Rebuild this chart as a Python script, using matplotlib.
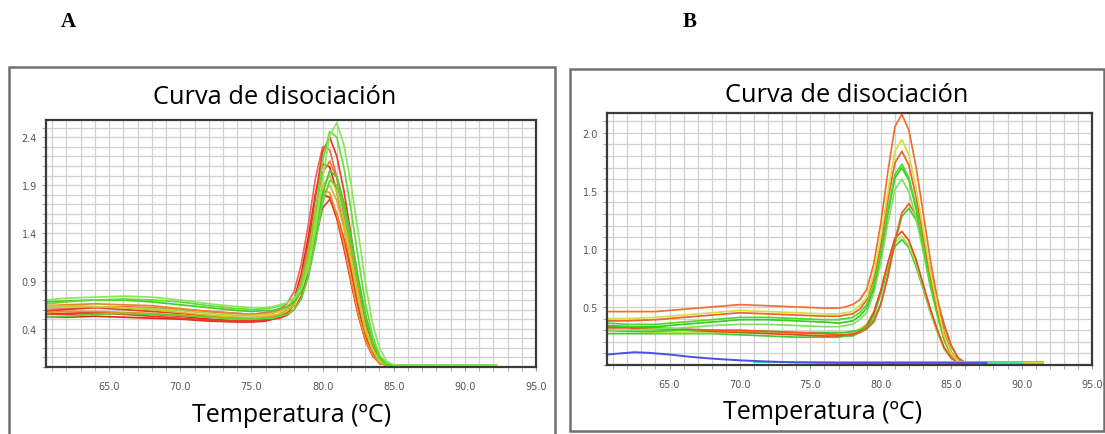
import matplotlib
matplotlib.use("Agg")
import matplotlib.pyplot as plt
from matplotlib.patches import Rectangle
from matplotlib.ticker import MultipleLocator, FixedLocator

# ---- panel A data (melt curves, -dF/dT vs temperature) ----
TEMP_A = [60.6, 62, 64, 66, 68, 70, 72, 74, 75, 76, 76.5, 77, 77.5, 78, 78.5, 79,
          79.5, 80, 80.5, 81, 81.5, 82, 82.5, 83, 83.5, 84, 84.5, 85, 86, 88, 90, 92.2]

a_1 = [0.70, 0.72, 0.73, 0.74, 0.73, 0.70, 0.66, 0.63, 0.62, 0.62, 0.63, 0.65, 0.67, 0.71, 0.81, 1.03,
       1.44, 1.97, 2.42, 2.55, 2.32, 1.91, 1.41, 0.89, 0.46, 0.20, 0.06, 0.02, 0.02, 0.02, 0.02, 0.02]
a_2 = [0.66, 0.68, 0.70, 0.71, 0.70, 0.68, 0.64, 0.61, 0.60, 0.61, 0.62, 0.64, 0.67, 0.72, 0.86, 1.17,
       1.63, 2.15, 2.46, 2.40, 2.08, 1.64, 1.14, 0.67, 0.33, 0.12, 0.04, 0.02, 0.02, 0.02, 0.02, 0.02]
a_3 = [0.58, 0.60, 0.62, 0.60, 0.58, 0.56, 0.53, 0.51, 0.50, 0.51, 0.53, 0.55, 0.59, 0.68, 0.89, 1.28,
       1.78, 2.25, 2.40, 2.20, 1.84, 1.38, 0.89, 0.48, 0.22, 0.07, 0.02, 0.02, 0.02, 0.02, 0.02, 0.02]
a_4 = [0.60, 0.61, 0.62, 0.63, 0.62, 0.60, 0.58, 0.56, 0.55, 0.57, 0.58, 0.61, 0.66, 0.79, 1.07, 1.49,
       1.97, 2.30, 2.27, 1.98, 1.59, 1.13, 0.69, 0.35, 0.15, 0.05, 0.02, 0.02, 0.02, 0.02, 0.02, 0.02]
a_5 = [0.64, 0.65, 0.66, 0.65, 0.64, 0.61, 0.58, 0.56, 0.55, 0.56, 0.57, 0.59, 0.62, 0.70, 0.88, 1.21,
       1.64, 2.03, 2.15, 1.97, 1.65, 1.23, 0.80, 0.43, 0.20, 0.07, 0.02, 0.02, 0.02, 0.02, 0.02, 0.02]
a_6 = [0.55, 0.56, 0.57, 0.56, 0.55, 0.53, 0.50, 0.48, 0.48, 0.50, 0.51, 0.54, 0.58, 0.71, 0.97, 1.36,
       1.81, 2.12, 2.09, 1.83, 1.47, 1.04, 0.63, 0.33, 0.14, 0.04, 0.02, 0.02, 0.02, 0.02, 0.02, 0.02]
a_7 = [0.68, 0.69, 0.70, 0.70, 0.68, 0.65, 0.62, 0.59, 0.58, 0.59, 0.59, 0.61, 0.63, 0.68, 0.79, 1.03,
       1.40, 1.81, 2.05, 1.99, 1.72, 1.36, 0.94, 0.56, 0.27, 0.10, 0.03, 0.02, 0.02, 0.02, 0.02, 0.02]
a_8 = [0.62, 0.63, 0.63, 0.62, 0.61, 0.59, 0.56, 0.54, 0.54, 0.55, 0.56, 0.58, 0.61, 0.68, 0.84, 1.14,
       1.53, 1.89, 2.00, 1.83, 1.53, 1.14, 0.75, 0.41, 0.19, 0.07, 0.02, 0.02, 0.02, 0.02, 0.02, 0.02]
a_9 = [0.52, 0.53, 0.55, 0.56, 0.55, 0.54, 0.52, 0.51, 0.50, 0.51, 0.51, 0.53, 0.55, 0.60, 0.71, 0.94,
       1.30, 1.71, 1.95, 1.90, 1.64, 1.30, 0.90, 0.53, 0.26, 0.10, 0.03, 0.02, 0.02, 0.02, 0.02, 0.02]
a_10 = [0.64, 0.64, 0.63, 0.62, 0.60, 0.57, 0.54, 0.52, 0.52, 0.53, 0.54, 0.55, 0.58, 0.65, 0.80, 1.09,
        1.46, 1.80, 1.90, 1.74, 1.45, 1.09, 0.71, 0.38, 0.18, 0.06, 0.02, 0.02, 0.02, 0.02, 0.02, 0.02]
a_11 = [0.57, 0.58, 0.58, 0.57, 0.56, 0.54, 0.52, 0.50, 0.50, 0.51, 0.53, 0.55, 0.59, 0.69, 0.90, 1.23,
        1.59, 1.85, 1.82, 1.59, 1.28, 0.91, 0.56, 0.29, 0.13, 0.04, 0.02, 0.02, 0.02, 0.02, 0.02, 0.02]
a_12 = [0.52, 0.52, 0.53, 0.52, 0.51, 0.50, 0.48, 0.47, 0.47, 0.48, 0.50, 0.52, 0.56, 0.65, 0.87, 1.19,
        1.55, 1.80, 1.77, 1.55, 1.24, 0.88, 0.54, 0.28, 0.12, 0.04, 0.02, 0.02, 0.02, 0.02, 0.02, 0.02]
a_13 = [0.55, 0.55, 0.56, 0.55, 0.53, 0.51, 0.49, 0.48, 0.48, 0.49, 0.50, 0.51, 0.54, 0.60, 0.74, 1.00,
        1.34, 1.66, 1.75, 1.60, 1.34, 1.00, 0.65, 0.36, 0.16, 0.06, 0.02, 0.02, 0.02, 0.02, 0.02, 0.02]

curves_a = [a_4, a_12, a_6, a_13, a_3, a_11, a_5, a_10, a_8, a_9, a_7, a_2, a_1]
colors_a = ["#f06858", "#e02818", "#e02a1a", "#e84030", "#f03a2a", "#f09020", "#f08030",
            "#e8b030", "#b0d830", "#5ad838", "#48cc28", "#66dd33", "#88e858"]

# ---- panel B data ----
TEMP_B = [60.6, 62, 64, 66, 68, 70, 72, 74, 76, 77, 77.5, 78, 78.5, 79, 79.5, 80,
          80.5, 81, 81.5, 82, 82.5, 83, 83.5, 84, 84.5, 85, 85.5, 86, 88, 90, 91.5]

b_1 = [0.46, 0.46, 0.46, 0.48, 0.50, 0.52, 0.51, 0.50, 0.49, 0.49, 0.50, 0.52, 0.56, 0.65, 0.87, 1.22,
       1.66, 2.05, 2.16, 2.02, 1.71, 1.32, 0.92, 0.58, 0.28, 0.11, 0.04, 0.02, 0.02, 0.02, 0.02]
b_2 = [0.40, 0.40, 0.41, 0.43, 0.45, 0.47, 0.46, 0.45, 0.44, 0.44, 0.45, 0.46, 0.51, 0.58, 0.78, 1.10,
       1.49, 1.84, 1.94, 1.81, 1.53, 1.18, 0.82, 0.52, 0.25, 0.10, 0.03, 0.02, 0.02, 0.02, 0.02]
b_3 = [0.38, 0.38, 0.39, 0.41, 0.43, 0.45, 0.44, 0.43, 0.42, 0.42, 0.43, 0.44, 0.48, 0.56, 0.74, 1.04,
       1.42, 1.74, 1.84, 1.72, 1.45, 1.12, 0.78, 0.49, 0.24, 0.09, 0.03, 0.02, 0.02, 0.02, 0.02]
b_4 = [0.36, 0.35, 0.35, 0.37, 0.39, 0.41, 0.41, 0.40, 0.39, 0.39, 0.40, 0.41, 0.45, 0.52, 0.69, 0.98,
       1.33, 1.64, 1.73, 1.61, 1.37, 1.05, 0.73, 0.46, 0.22, 0.09, 0.03, 0.02, 0.02, 0.02, 0.02]
b_5 = [0.34, 0.33, 0.33, 0.35, 0.37, 0.39, 0.39, 0.38, 0.37, 0.36, 0.37, 0.38, 0.42, 0.49, 0.66, 0.95,
       1.30, 1.61, 1.70, 1.59, 1.35, 1.04, 0.72, 0.45, 0.22, 0.09, 0.03, 0.02, 0.02, 0.02, 0.02]
b_6 = [0.30, 0.30, 0.31, 0.32, 0.34, 0.35, 0.35, 0.34, 0.33, 0.33, 0.34, 0.35, 0.39, 0.45, 0.62, 0.88,
       1.22, 1.51, 1.60, 1.49, 1.27, 0.98, 0.68, 0.43, 0.21, 0.08, 0.03, 0.02, 0.02, 0.02, 0.02]
b_7 = [0.33, 0.33, 0.32, 0.31, 0.30, 0.30, 0.29, 0.28, 0.27, 0.26, 0.26, 0.27, 0.28, 0.31, 0.37, 0.52,
       0.76, 1.07, 1.31, 1.39, 1.29, 1.09, 0.83, 0.57, 0.35, 0.17, 0.06, 0.02, 0.02, 0.02, 0.02]
b_8 = [0.30, 0.29, 0.29, 0.30, 0.30, 0.29, 0.29, 0.28, 0.28, 0.28, 0.28, 0.29, 0.30, 0.33, 0.39, 0.53,
       0.76, 1.05, 1.28, 1.35, 1.25, 1.05, 0.80, 0.55, 0.34, 0.16, 0.06, 0.02, 0.02, 0.02, 0.02]
b_9 = [0.32, 0.32, 0.31, 0.30, 0.29, 0.28, 0.27, 0.26, 0.25, 0.25, 0.26, 0.26, 0.29, 0.34, 0.45, 0.64,
       0.88, 1.09, 1.15, 1.07, 0.91, 0.70, 0.49, 0.31, 0.15, 0.06, 0.02, 0.02, 0.02, 0.02, 0.02]
b_10 = [0.29, 0.29, 0.28, 0.28, 0.28, 0.28, 0.28, 0.27, 0.27, 0.27, 0.28, 0.28, 0.31, 0.35, 0.46, 0.64,
        0.86, 1.05, 1.11, 1.03, 0.88, 0.68, 0.47, 0.29, 0.14, 0.06, 0.02, 0.02, 0.02, 0.02, 0.02]
b_11 = [0.27, 0.27, 0.27, 0.27, 0.27, 0.26, 0.25, 0.24, 0.24, 0.24, 0.25, 0.25, 0.28, 0.32, 0.43, 0.61,
        0.83, 1.02, 1.08, 1.01, 0.85, 0.66, 0.46, 0.29, 0.14, 0.06, 0.02, 0.02, 0.02, 0.02, 0.02]

curves_b = [b_11, b_10, b_9, b_8, b_7, b_6, b_5, b_4, b_3, b_1, b_2]
colors_b = ["#3ccc30", "#b8e050", "#e84a20", "#44d020", "#f05a28", "#80e060", "#38cc20",
            "#50d828", "#f06030", "#f07030", "#d4e040"]

# no-template control near the baseline
ntc_temp = [60.6, 61.5, 62.5, 63.5, 65, 66.5, 68, 70, 72, 74, 77, 80, 84, 87.5]
ntc_val = [0.09, 0.10, 0.11, 0.105, 0.09, 0.07, 0.055, 0.04, 0.03, 0.022, 0.018, 0.018, 0.018, 0.018]
ntc2_temp = [71, 80, 90]
ntc2_val = [0.024, 0.024, 0.024]

TITLE = "Curva de disociación"
XLABEL = "Temperatura (ºC)"
TXT = ["Open Sans", "DejaVu Sans"]


def style_axes(ax, ylim, yticks):
    ax.set_xlim(60.56, 95.0)
    ax.set_ylim(*ylim)
    ax.xaxis.set_major_locator(FixedLocator([65, 70, 75, 80, 85, 90, 95]))
    ax.xaxis.set_minor_locator(MultipleLocator(1))
    ax.yaxis.set_major_locator(FixedLocator(yticks))
    ax.yaxis.set_minor_locator(MultipleLocator(0.1))
    ax.set_xticklabels(["%.1f" % t for t in [65, 70, 75, 80, 85, 90, 95]])
    ax.set_yticklabels(["%.1f" % t for t in yticks])
    ax.grid(which="both", color="#d0d0d0", linewidth=0.9)
    ax.set_axisbelow(True)
    ax.tick_params(which="both", direction="out", length=3, color="#9a9a9a",
                   labelsize=7, labelcolor="#555555")
    ax.tick_params(axis="x", pad=7)
    for s in ax.spines.values():
        s.set_color("#3a3a3a")
        s.set_linewidth(1.6)


fig = plt.figure(figsize=(11.05, 4.35), dpi=100)
W, H = 1105.0, 435.0

def px_axes(l, t, r, b):
    return fig.add_axes([l / W, 1 - b / H, (r - l) / W, (b - t) / H])

# outer frames
fig.patches.append(Rectangle((9 / W, -0.01), 546 / W, 1 - 68 / H + 0.01, transform=fig.transFigure,
                             fill=False, edgecolor="#707070", linewidth=1.8))
fig.patches.append(Rectangle((570 / W, 1 - 432 / H), 534 / W, (432 - 70) / H, transform=fig.transFigure,
                             fill=False, edgecolor="#707070", linewidth=1.8))

ax_a = px_axes(46, 121, 536, 368)
for y, c in zip(curves_a, colors_a):
    ax_a.plot(TEMP_A, y, color=c, linewidth=1.25)
style_axes(ax_a, (0, 2.58), [0.4, 0.9, 1.4, 1.9, 2.4])

ax_b = px_axes(607, 114, 1092, 366)
for y, c in zip(curves_b, colors_b):
    ax_b.plot(TEMP_B, y, color=c, linewidth=1.25)
ax_b.plot(ntc2_temp, ntc2_val, color="#40e0a0", linewidth=1.4)
ax_b.plot(ntc_temp, ntc_val, color="#4a50e8", linewidth=1.4)
style_axes(ax_b, (0, 2.17), [0.5, 1.0, 1.5, 2.0])

# titles, axis labels, panel letters
fig.text(275 / W, 1 - 97 / H, TITLE, ha="center", va="center", fontsize=18.3, family=TXT)
fig.text(847 / W, 1 - 95 / H, TITLE, ha="center", va="center", fontsize=18.3, family=TXT)
fig.text(292 / W, 1 - 416 / H, XLABEL, ha="center", va="center", fontsize=18, family=TXT)
fig.text(823 / W, 1 - 413 / H, XLABEL, ha="center", va="center", fontsize=18, family=TXT)
fig.text(68 / W, 1 - 22 / H, "A", ha="center", va="center", fontsize=15, fontweight="bold",
         family=["Liberation Serif", "DejaVu Serif"])
fig.text(690 / W, 1 - 22 / H, "B", ha="center", va="center", fontsize=15, fontweight="bold",
         family=["Liberation Serif", "DejaVu Serif"])

fig.savefig("out.png", dpi=100)
